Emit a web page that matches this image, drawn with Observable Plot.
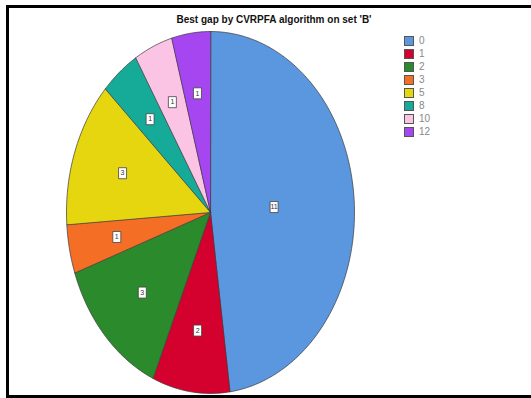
<!DOCTYPE html>
<html>
<head>
<meta charset="utf-8">
<script src="https://cdn.jsdelivr.net/npm/d3@7"></script>
<script src="https://cdn.jsdelivr.net/npm/@observablehq/plot@0.6"></script>
<style>
  html, body { margin: 0; padding: 0; background: #fff; width: 531px; height: 398px; overflow: hidden; }
  #chart { position: absolute; left: 0; top: 0; }
  #frame { position: absolute; left: 6px; top: 5px; width: 560px; height: 387px; border: 3px solid #000; pointer-events: none; }
  #title { position: absolute; left: 0; top: 14px; width: 548px; text-align: center;
           font: bold 10px "Liberation Sans", Arial, sans-serif; color: #111; }
  #legend { position: absolute; left: 404px; top: 34px; font: 10px "Liberation Sans", Arial, sans-serif; color: #888; }
  .item { height: 13px; display: flex; align-items: center; }
  .sw { width: 8px; height: 8px; border: 1px solid #555; margin-right: 5px; }
</style>
</head>
<body>
<div id="chart"></div>
<div id="title">Best gap by CVRPFA algorithm on set 'B'</div>
<div id="legend"></div>
<div id="frame"></div>
<script>
// Best gap values and how many instances reached each one
const categories = ["0", "1", "2", "3", "5", "8", "10", "12"];
const counts = [11, 2, 3, 1, 3, 1, 1, 1];
const colors = ["#5b97df", "#d4002e", "#2b8a2b", "#f46e26", "#e6d60f", "#16ab98", "#fbc4e4", "#a546f0"];

const rows = categories.map((key, i) => ({ key, count: counts[i] }));

// Angles run clockwise from 12 o'clock, as d3.pie gives them
const arcs = d3.pie().sort(null).value(d => d.count)(rows);

// Each slice as a closed outline: centre, then points along its arc
const outline = arcs.flatMap(a => {
  const n = Math.max(8, Math.ceil((a.endAngle - a.startAngle) / 0.02));
  const pts = [{ key: a.data.key, x: 0, y: 0 }];
  for (let t = 0; t <= n; t++) {
    const ang = a.startAngle + (a.endAngle - a.startAngle) * t / n;
    pts.push({ key: a.data.key, x: Math.sin(ang), y: Math.cos(ang) });
  }
  return pts;
});

// Value labels sit at each sector's centroid
const labels = arcs.map(a => {
  const theta = a.endAngle - a.startAngle;
  const mid = (a.startAngle + a.endAngle) / 2;
  const r = 2 * Math.sin(theta / 2) / (3 * theta / 2);
  return { key: a.data.key, count: a.data.count, x: r * Math.sin(mid), y: r * Math.cos(mid) };
});

const box = { draw(ctx) { ctx.rect(-4, -5.5, 8, 11); } };

const chart = Plot.plot({
  width: 531,
  height: 398,
  margin: 0,
  x: { domain: [-1, 1], range: [66, 354], axis: null },
  y: { domain: [-1, 1], range: [393, 31], axis: null },
  color: { domain: categories, range: colors },
  marks: [
    Plot.line(outline, { x: "x", y: "y", z: "key", fill: "key", stroke: "#3a3a3a", strokeWidth: 0.7, curve: "linear-closed" }),
    Plot.dot(labels, { x: "x", y: "y", symbol: box, r: 4, fill: "#fff", stroke: "#444", strokeWidth: 0.8 }),
    Plot.text(labels, { x: "x", y: "y", text: d => String(d.count), fontSize: 7, fill: "#333", fontFamily: "Liberation Sans, Arial, sans-serif" })
  ]
});
document.getElementById("chart").append(chart);

// Legend down the right-hand side
const legend = d3.select("#legend");
categories.forEach((c, i) => {
  const item = legend.append("div").attr("class", "item");
  item.append("div").attr("class", "sw").style("background", colors[i]);
  item.append("span").text(c);
});
</script>
</body>
</html>
